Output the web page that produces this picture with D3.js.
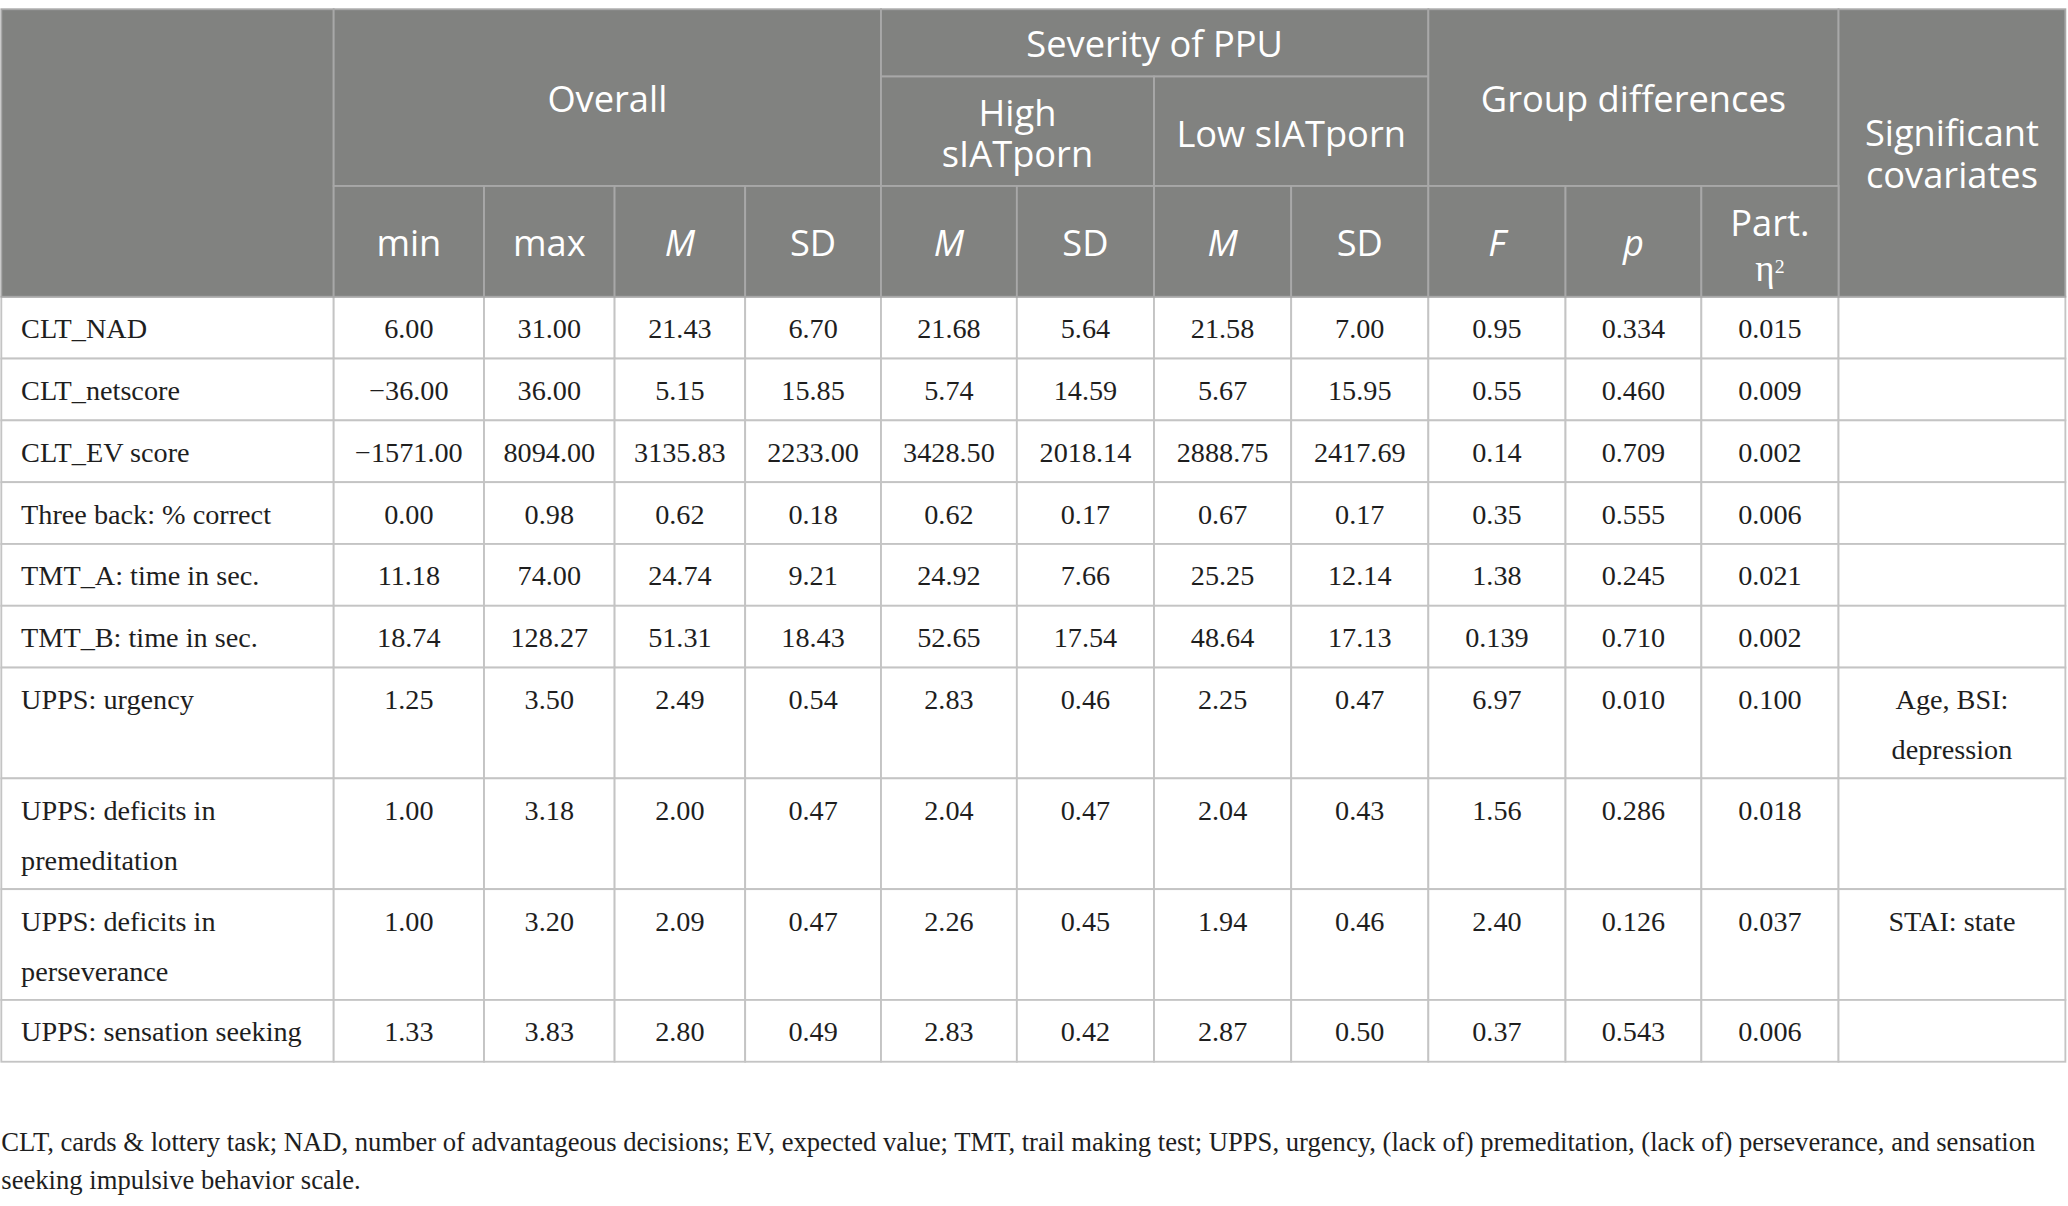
<!DOCTYPE html>
<html>
<head>
<meta charset="utf-8">
<script src="https://cdn.jsdelivr.net/npm/d3@7"></script>
<style>
  html, body { margin: 0; padding: 0; background: #ffffff; }
  svg { display: block; }
</style>
</head>
<body>
<script>
// ---------------- DATA ----------------
const variables = ["CLT_NAD", "CLT_netscore", "CLT_EV score", "Three back: % correct",
  "TMT_A: time in sec.", "TMT_B: time in sec.", "UPPS: urgency",
  "UPPS: deficits in premeditation", "UPPS: deficits in perseverance", "UPPS: sensation seeking"];
const overallMin = ["6.00", "\u221236.00", "\u22121571.00", "0.00", "11.18", "18.74", "1.25", "1.00", "1.00", "1.33"];
const overallMax = ["31.00", "36.00", "8094.00", "0.98", "74.00", "128.27", "3.50", "3.18", "3.20", "3.83"];
const overallM   = ["21.43", "5.15", "3135.83", "0.62", "24.74", "51.31", "2.49", "2.00", "2.09", "2.80"];
const overallSD  = ["6.70", "15.85", "2233.00", "0.18", "9.21", "18.43", "0.54", "0.47", "0.47", "0.49"];
const highM      = ["21.68", "5.74", "3428.50", "0.62", "24.92", "52.65", "2.83", "2.04", "2.26", "2.83"];
const highSD     = ["5.64", "14.59", "2018.14", "0.17", "7.66", "17.54", "0.46", "0.47", "0.45", "0.42"];
const lowM       = ["21.58", "5.67", "2888.75", "0.67", "25.25", "48.64", "2.25", "2.04", "1.94", "2.87"];
const lowSD      = ["7.00", "15.95", "2417.69", "0.17", "12.14", "17.13", "0.47", "0.43", "0.46", "0.50"];
const fValues    = ["0.95", "0.55", "0.14", "0.35", "1.38", "0.139", "6.97", "1.56", "2.40", "0.37"];
const pValues    = ["0.334", "0.460", "0.709", "0.555", "0.245", "0.710", "0.010", "0.286", "0.126", "0.543"];
const etaValues  = ["0.015", "0.009", "0.002", "0.006", "0.021", "0.002", "0.100", "0.018", "0.037", "0.006"];
const covariates = ["", "", "", "", "", "", "Age, BSI: depression", "", "STAI: state", ""];

const groupHeaders = ["Overall", "Severity of PPU", "High sIATporn", "Low sIATporn", "Group differences", "Significant covariates"];
const subHeaders = ["min", "max", "M", "SD", "M", "SD", "M", "SD", "F", "p", "Part."];
const footnote = "CLT, cards & lottery task; NAD, number of advantageous decisions; EV, expected value; TMT, trail making test; UPPS, urgency, (lack of) premeditation, (lack of) perseverance, and sensation seeking impulsive behavior scale.";

// ---------------- LAYOUT ----------------
const W = 1568, H = 914.4;
const colKeys = ["label", "min", "max", "M", "SD", "hM", "hSD", "lM", "lSD", "F", "p", "eta", "cov"];
const colEdges = [1, 253, 367, 466, 565, 668, 771, 875, 979, 1083, 1187, 1290, 1394, 1566];
const xCol = d3.scaleOrdinal().domain(colKeys).range(colEdges.slice(0, -1));
const wCol = d3.scaleOrdinal().domain(colKeys).range(colEdges.slice(1).map((e, i) => e - colEdges[i]));
const hdrY = [7, 58, 141, 225];

const headFont = "'Open Sans', 'Noto Sans', sans-serif";
const bodyFont = "'Liberation Serif', 'Times New Roman', serif";
const headBg = "#818280", headLine = "#a8a8a8", bodyLine = "#c4c4c4";
const headSize = 27.5, bodySize = 21.4, noteSize = 20.2;

const svg = d3.select("body").append("svg")
  .attr("width", 2068).attr("height", 1206)
  .attr("viewBox", `0 0 ${W} ${H}`);

// text measuring helper for wrapping
const meas = svg.append("text").attr("font-family", bodyFont).attr("visibility", "hidden");
function wrap(str, maxW, size) {
  if (!str) return [];
  meas.attr("font-size", size);
  const words = str.split(" ");
  const lines = [];
  let cur = "";
  words.forEach(w => {
    const test = cur ? cur + " " + w : w;
    meas.text(test);
    if (meas.node().getComputedTextLength() > maxW && cur) { lines.push(cur); cur = w; }
    else cur = test;
  });
  if (cur) lines.push(cur);
  return lines;
}

// ---------------- BODY ROWS ----------------
const cols = {
  min: overallMin, max: overallMax, M: overallM, SD: overallSD,
  hM: highM, hSD: highSD, lM: lowM, lSD: lowSD,
  F: fValues, p: pValues, eta: etaValues
};
const rows = variables.map((v, i) => {
  const cells = {};
  cells.label = wrap(v, wCol("label") - 24, bodySize);
  Object.keys(cols).forEach(k => cells[k] = [cols[k][i]]);
  cells.cov = wrap(covariates[i], wCol("cov") - 24, bodySize);
  const n = d3.max(Object.values(cells), c => c.length);
  return { cells, n };
});
const singleH = 46.86, extraLine = 37.14, lineGap = 38;
let yAcc = hdrY[3];
rows.forEach(r => { r.y = yAcc; r.h = singleH + (r.n - 1) * extraLine; yAcc += r.h; });

const bodyG = svg.append("g");
rows.forEach(r => {
  const rg = bodyG.append("g");
  colKeys.forEach(k => {
    rg.append("rect")
      .attr("x", xCol(k)).attr("y", r.y).attr("width", wCol(k)).attr("height", r.h)
      .attr("fill", "#ffffff").attr("stroke", bodyLine).attr("stroke-width", 1.4);
    const lines = r.cells[k];
    if (!lines.length) return;
    const t = rg.append("text")
      .attr("font-family", bodyFont).attr("font-size", bodySize).attr("fill", "#1e1e1e")
      .attr("text-anchor", k === "label" ? "start" : "middle");
    lines.forEach((ln, j) => {
      t.append("tspan")
        .attr("x", k === "label" ? xCol(k) + 15 : xCol(k) + wCol(k) / 2)
        .attr("y", r.y + 24 + j * lineGap)
        .attr("dy", "0.35em")
        .text(ln);
    });
  });
});

// ---------------- HEADER ----------------
const headG = svg.append("g");
function hcell(c0, c1, r0, r1, lines, opts = {}) {
  const x0 = xCol(colKeys[c0]);
  const x1 = xCol(colKeys[c1]) + wCol(colKeys[c1]);
  const y0 = hdrY[r0], y1 = hdrY[r1];
  headG.append("rect").attr("x", x0).attr("y", y0).attr("width", x1 - x0).attr("height", y1 - y0)
    .attr("fill", headBg).attr("stroke", headLine).attr("stroke-width", 1.4);
  if (!lines.length) return;
  const cy = (y0 + y1) / 2 + (opts.shift || 0);
  const sp = opts.spacing || 31.5;
  const t = headG.append("text")
    .attr("text-anchor", "middle")
    .attr("font-family", headFont).attr("font-size", headSize).attr("fill", "#ffffff")
    .attr("font-style", opts.italic ? "italic" : "normal");
  lines.forEach((ln, j) => {
    const ts = t.append("tspan")
      .attr("x", (x0 + x1) / 2)
      .attr("y", cy + (j - (lines.length - 1) / 2) * sp)
      .attr("dy", "0.35em");
    if (opts.eta && j === lines.length - 1) {
      ts.attr("font-family", bodyFont).attr("font-size", 28).text("\u03b7");
      t.append("tspan").attr("font-family", bodyFont).attr("font-size", 15).attr("dy", "-0.4em").text("2");
    } else {
      ts.text(ln);
    }
  });
}
hcell(0, 0, 0, 3, []);
hcell(1, 4, 0, 2, [groupHeaders[0]], { shift: 1.5 });
hcell(5, 8, 0, 1, [groupHeaders[1]], { shift: 1 });
hcell(5, 6, 1, 2, groupHeaders[2].split(" "), { shift: 2 });
hcell(7, 8, 1, 2, [groupHeaders[3]], { shift: 2 });
hcell(9, 11, 0, 2, [groupHeaders[4]], { shift: 1.5 });
hcell(12, 12, 0, 3, groupHeaders[5].split(" "), { shift: 1, spacing: 32 });
subHeaders.forEach((s, i) => {
  const italic = (s === "M" || s === "F" || s === "p");
  if (s === "Part.") hcell(i + 1, i + 1, 2, 3, [s, "\u03b7"], { eta: true, spacing: 34, shift: 3 });
  else hcell(i + 1, i + 1, 2, 3, [s], { italic, shift: 1.5 });
});

// ---------------- FOOTNOTE ----------------
const fn = svg.append("text").attr("font-family", bodyFont).attr("font-size", noteSize).attr("fill", "#1e1e1e");
wrap(footnote, 1562, noteSize).forEach((ln, j) => {
  fn.append("tspan").attr("x", 1).attr("y", 866 + j * 28.5).attr("dy", "0.35em").text(ln);
});
meas.remove();
</script>
</body>
</html>
